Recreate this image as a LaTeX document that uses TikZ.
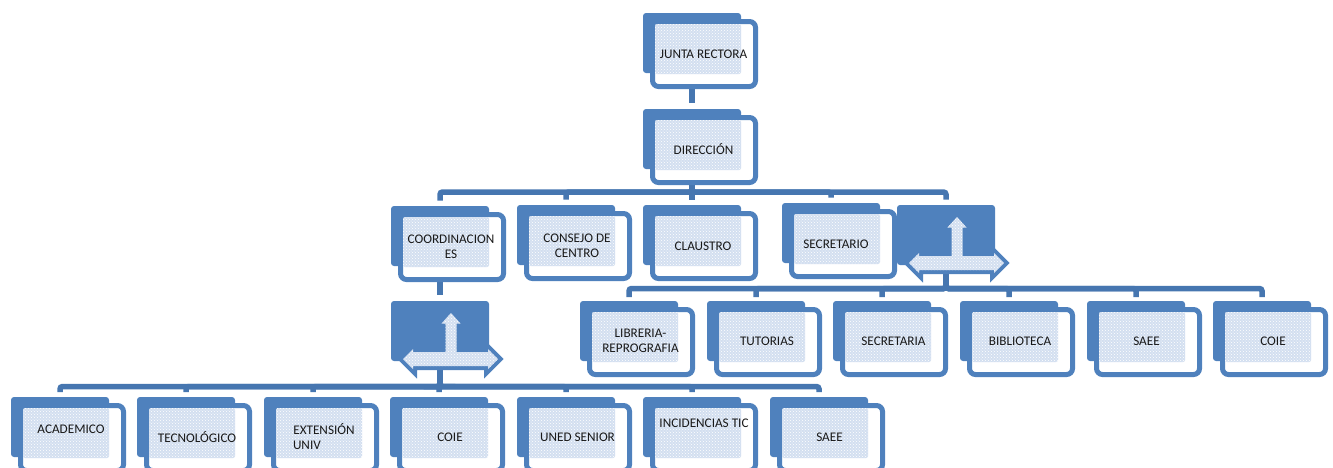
\documentclass[tikz,border=0pt]{standalone}
\usepackage{fontspec}
\setmainfont{Carlito}
\usetikzlibrary{patterns,backgrounds}
\definecolor{cardblue}{HTML}{4F81BD}
\definecolor{linkblue}{HTML}{4676B0}
\definecolor{dotblue}{HTML}{D3DFF0}
\tikzset{
	plate/.style={fill=cardblue,rounded corners=3pt,inner sep=0pt,outer sep=0pt,minimum width=98pt,minimum height=60pt},
	front/.style={draw=cardblue,line width=5pt,fill=white,rounded corners=6pt,inner sep=0pt,outer sep=2.5pt,minimum width=103pt,minimum height=65pt},
	dots/.style={preaction={fill=dotblue,rounded corners=2pt},rounded corners=2pt,pattern=crosshatch dots,pattern color=white,inner sep=0pt,outer sep=0pt,minimum width=86pt,minimum height=50pt},
	label/.style={font=\fontsize{13.2}{15}\selectfont,text=black!90,inner sep=0pt,align=center,yshift=-0.2pt},
	link/.style={draw=linkblue,line width=5.5pt,rounded corners=2.5pt}
}
% name, left, top, text x, text y, text
\newcommand{\Card}[6]{
	\node[plate] (#1) at (#2+49,#3+30) {};
	\node[front] (#1f) at (#2+61,#3+41) {};
	\node[dots] (#1d) at (#2+55,#3+36) {};
	\node[label] (#1t) at (#4,#5) {#6};
}
% name, left, top
\newcommand{\Tee}[3]{
	\node[plate] (#1) at (#2+49,#3+30) {};
	\begin{scope}[shift={(#2,#3)}]
		\path[preaction={draw=cardblue,line width=8pt,line join=miter},preaction={fill=dotblue},pattern=crosshatch dots,pattern color=white]
			(60,12) -- (69.5,22.5) -- (65.5,22.5) -- (65.5,51) -- (97,51) -- (97,48) -- (107,58) -- (97,68) -- (97,65)
			-- (22,65) -- (22,68) -- (12,58) -- (22,48) -- (22,51) -- (54.5,51) -- (54.5,22.5) -- (50.5,22.5) -- cycle;
	\end{scope}
}
\begin{document}
\begin{tikzpicture}[x=1pt,y=-1pt]
	\useasboundingbox (0,0) rectangle (1333,467);
	\clip (0,0) rectangle (1333,467);
	\Card{junta}{643}{13}{703.5}{54}{JUNTA RECTORA}
	\Card{direccion}{643}{109}{703.5}{149}{DIRECCIÓN}
	\Card{coordinaciones}{391}{206}{451}{246.5}{COORDINACION\\ES}
	\Card{consejo}{517}{205}{577}{245.5}{CONSEJO DE\\CENTRO}
	\Card{claustro}{643}{205}{703}{246}{CLAUSTRO}
	\Card{secretario}{782}{203}{836}{244}{SECRETARIO}
	\Tee{gestion}{897}{205}
	\Tee{areas}{391}{301}
	\Card{libreria}{580}{301}{640.5}{340.5}{LIBRERIA-\\REPROGRAFIA}
	\Card{tutorias}{707}{301}{767}{341}{TUTORIAS}
	\Card{secretaria}{833}{301}{893.5}{341}{SECRETARIA}
	\Card{biblioteca}{960}{301}{1020}{341}{BIBLIOTECA}
	\Card{saeeA}{1087}{301}{1146.5}{341}{SAEE}
	\Card{coieA}{1213}{301}{1273}{341}{COIE}
	\Card{academico}{11}{397}{71}{429}{ACADEMICO}
	\Card{tecnologico}{137}{397}{197}{437}{TECNOLÓGICO}
	\Card{extension}{264}{397}{324}{436.5}{EXTENSIÓN\\\makebox[62pt][l]{UNIV}}
	\Card{coieB}{390}{397}{450}{437}{COIE}
	\Card{senior}{517}{397}{577.5}{437}{UNED SENIOR}
	\Card{incidencias}{643}{397}{704}{423}{INCIDENCIAS TIC}
	\Card{saeeB}{770}{397}{829.5}{437}{SAEE}
	\begin{pgfonlayer}{background}
		\draw[link,shorten >=6pt] (junta) -- (direccion);
		\draw[link,shorten >=6pt] (coordinaciones) -- (areas);
		\foreach \v in {coordinaciones,consejo,claustro,secretario,gestion}{
			\draw[link,shorten >=5.5pt] (direccion.south) -- ++(0,23) -| (\v.north);
		}
		\foreach \v in {libreria,tutorias,secretaria,biblioteca,saeeA,coieA}{
			\draw[link,shorten >=4pt] (gestion.south) -- ++(0,23.5) -| (\v.north);
		}
		\foreach \v in {academico,tecnologico,extension,coieB,senior,incidencias,saeeB}{
			\draw[link,shorten >=5pt] (areas.south) -- ++(0,25.5) -| (\v.north);
		}
	\end{pgfonlayer}
\end{tikzpicture}
\end{document}
